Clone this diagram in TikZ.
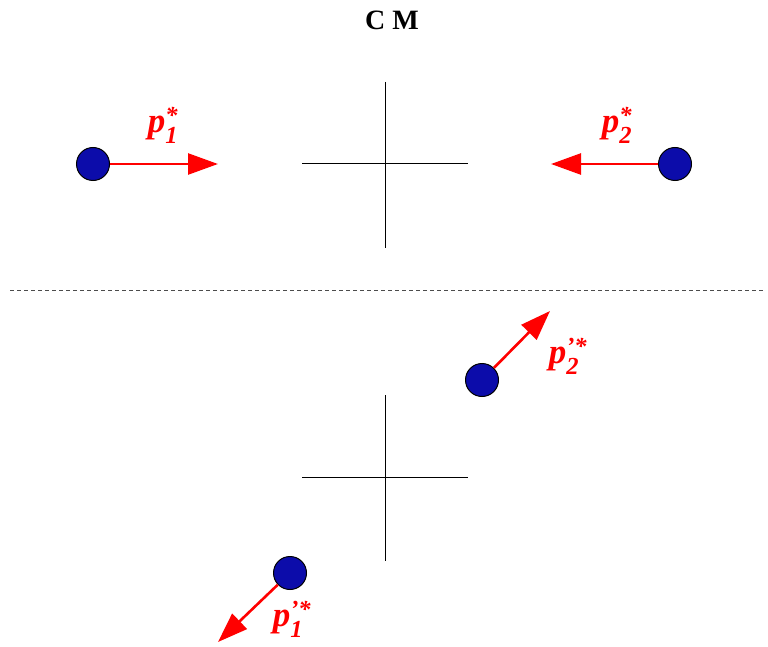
\documentclass[tikz,border=0pt]{standalone}
\usepackage{amsmath}
\usepackage{fontspec}
\setmainfont{Liberation Serif}
\usetikzlibrary{arrows.meta}
\definecolor{ballblue}{RGB}{12,12,170}
\newcommand{\mom}[2]{\bfseries\itshape p$^{\text{#2}}_{\text{#1}}$}
\tikzset{
  ball/.style={circle, draw=black, fill=ballblue, line width=1pt, minimum size=33pt, inner sep=0pt},
  momarrow/.style={red, line width=2.6pt, -{Triangle[length=30pt,width=21pt]}},
  momlabel/.style={red, font=\fontsize{35}{38}\selectfont},
  axis/.style={black, line width=1pt}
}
\begin{document}
\begin{tikzpicture}[x=1pt, y=-1pt]
\useasboundingbox (0,0) rectangle (768,647);
% Title
\node[font=\fontsize{28}{30}\selectfont\bfseries] (title) at (392,20) {C M};
% Separator
\draw[dashed, line width=0.8pt, black!70, dash pattern=on 4pt off 3pt] (10,290) -- (765,290);
% Crosses (before / after)
\foreach \cy in {164, 477} {
    \draw[axis] (302,\cy) -- (468,\cy);
    \draw[axis] (385,\cy-82) -- (385,\cy+84);
}
% Before the collision
\node[ball] (b1) at (93,164) {};
\node[ball] (b2) at (675,164) {};
\coordinate (e1) at (218,164);
\coordinate (e2) at (551,164);
\draw[momarrow] (b1) -- (e1);
\draw[momarrow] (b2) -- (e2);
\node[momlabel] (l1) at (163,125) {\mom{1}{*}};
\node[momlabel] (l2) at (617,125) {\mom{2}{*}};
% After the collision
\node[ball] (c2) at (482,380) {};
\node[ball] (c1) at (290,573) {};
\coordinate (f2) at (550,311);
\coordinate (f1) at (218,642);
\draw[momarrow] (c2) -- (f2);
\draw[momarrow] (c1) -- (f1);
\node[momlabel] (m2) at (568,356) {\mom{2}{'*}};
\node[momlabel] (m1) at (292,619) {\mom{1}{'*}};
\end{tikzpicture}
\end{document}
